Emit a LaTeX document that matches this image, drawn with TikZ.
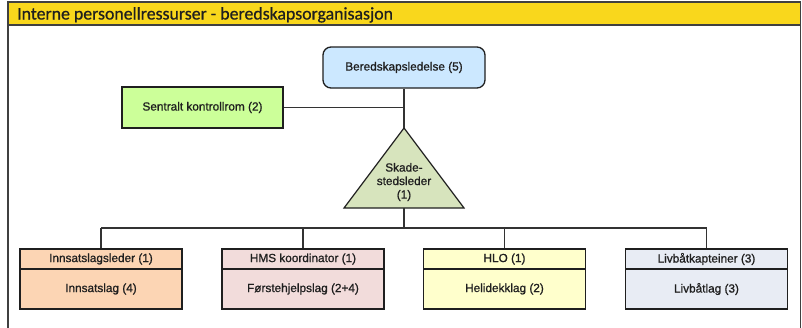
\documentclass[tikz,border=0pt]{standalone}
\usepackage{fontspec}
\setmainfont{Liberation Sans}
\newfontfamily\lblfont{Liberation Sans}[FakeBold=0.9]
\newfontfamily\titlefont{Carlito}[FakeBold=0.6]
\definecolor{hdr}{HTML}{F9D71C}
\definecolor{bluefill}{HTML}{CCE8FF}
\definecolor{greenfill}{HTML}{CCFF99}
\definecolor{trifill}{HTML}{D7E4BD}
\definecolor{orangefill}{HTML}{FCD5B4}
\definecolor{pinkfill}{HTML}{F2DCDB}
\definecolor{yellowfill}{HTML}{FFFFCC}
\definecolor{lavfill}{HTML}{E8ECF4}
\definecolor{framecol}{HTML}{404040}
\begin{document}
\begin{tikzpicture}[x=1pt,y=-1pt,
  lbl/.style={font=\lblfont\fontsize{11.8}{13.5}\selectfont, text=black!88},
  boxst/.style={draw=black!88, line width=1.3pt, inner sep=0pt, lbl},
  conn/.style={draw=black!80, line width=1.1pt},
  frame/.style={draw=framecol, line width=1.5pt},
  headbox/.style={boxst, minimum width=162pt, minimum height=20pt},
  bodybox/.style={boxst, minimum width=162pt, minimum height=40pt}]
\useasboundingbox (0,0) rectangle (802,327);
% frame and header
\draw[frame] (8,330) -- (8,2) -- (800.5,2) -- (800.5,330);
\draw[frame, fill=hdr] (8,2) rectangle (800.5,25);
\node[anchor=base west, font=\titlefont\fontsize{17.8}{20}\selectfont, text=black!88, inner sep=0pt] (title) at (17,19.5) {Interne personellressurser - beredskapsorganisasjon};
% top nodes
\node[boxst, rounded corners=8pt, fill=bluefill, minimum width=162pt, minimum height=41pt] (bl) at (404,67.5) {Beredskapsledelse (5)};
\node[boxst, fill=greenfill, minimum width=161pt, minimum height=41pt] (sk) at (202.5,107.5) {Sentralt kontrollrom (2)};
% triangle
\coordinate (apex) at (404,128);
\coordinate (base) at (404,208);
\filldraw[fill=trifill, draw=black!88, line width=1.2pt, line join=miter] (apex) -- (464,208) -- (344,208) -- cycle;
\node[lbl, align=center, inner sep=0pt] (sl) at (404,182) {Skade-\\stedsleder\\(1)};
% bottom boxes
\node[headbox, fill=orangefill] (a1) at (101,259) {Innsatslagsleder (1)};
\node[bodybox, fill=orangefill] (b1) at (101,289) {Innsatslag (4)};
\node[headbox, fill=pinkfill] (a2) at (303,259) {HMS koordinator (1)};
\node[bodybox, fill=pinkfill] (b2) at (303,289) {Førstehjelpslag (2+4)};
\node[headbox, fill=yellowfill] (a3) at (504.5,259) {HLO (1)};
\node[bodybox, fill=yellowfill] (b3) at (504.5,289) {Helidekklag (2)};
\node[headbox, fill=lavfill] (a4) at (706.5,259) {Livbåtkapteiner (3)};
\node[bodybox, fill=lavfill] (b4) at (706.5,289) {Livbåtlag (3)};
% connectors
\coordinate (bus) at (404,228);
\draw[conn] (bl.south) -- (apex);
\draw[conn] (sk.east) -- (sk.east -| bl.south);
\draw[conn] (base) -- (bus);
\draw[conn] (a1.north |- bus) -- (a4.north |- bus);
\draw[conn] (a1.north |- bus) -- (a1.north);
\draw[conn] (a2.north |- bus) -- (a2.north);
\draw[conn] (a3.north |- bus) -- (a3.north);
\draw[conn] (a4.north |- bus) -- (a4.north);
\end{tikzpicture}
\end{document}
